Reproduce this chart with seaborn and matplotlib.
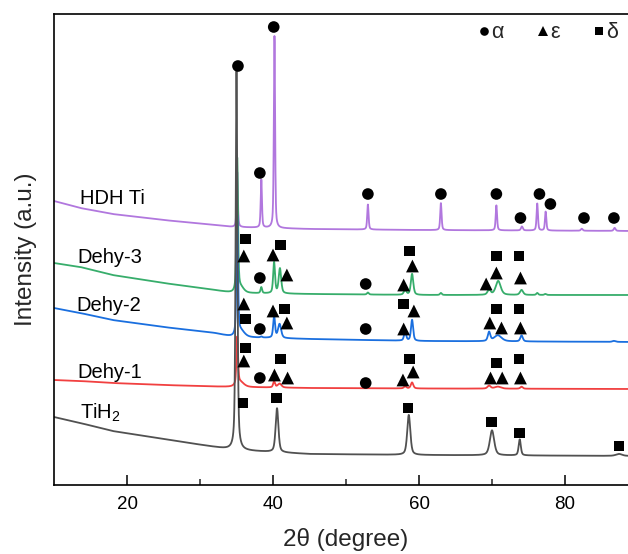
import numpy as np
import pandas as pd
import matplotlib
matplotlib.use("Agg")
import matplotlib.pyplot as plt
from matplotlib.lines import Line2D
import seaborn as sns

# ---------------- data ----------------
samples = ["HDH Ti", "Dehy-3", "Dehy-2", "Dehy-1", "TiH$_2$"]
colors = ["#B177DE", "#37AD6B", "#1A6FDF", "#F14040", "#515151"]

# background level of each stacked pattern at these 2θ positions
bg_tth = [10, 13.6, 18, 25, 32, 34.5, 45, 60, 90]
bg_hdh = [284, 277, 271, 265, 260, 258, 256, 255, 254]
bg_d3 = [222, 218, 210, 202, 195, 192, 191, 190, 190]
bg_d2 = [177, 172, 165, 158, 152, 148, 146, 144, 143]
bg_d1 = [105, 104, 102, 100, 98.5, 98, 97, 96.5, 96]
bg_tih2 = [68, 62, 54, 46, 38, 35, 31, 30, 29]

# diffraction peaks: position (2θ), height above background, FWHM
pk_hdh_pos = [35.1, 38.4, 40.2, 53.0, 63.0, 70.6, 74.1, 76.2, 77.35, 82.3, 86.8]
pk_hdh_h = [55, 48, 192, 25, 27, 25, 4, 27, 19, 2, 3]
pk_hdh_w = [0.2, 0.2, 0.2, 0.22, 0.22, 0.22, 0.3, 0.22, 0.22, 0.3, 0.3]

pk_d3_pos = [35.1, 35.6, 38.4, 40.15, 40.95, 53.0, 58.1, 59.05, 63.0, 69.6, 70.85, 74.05, 76.2, 77.3]
pk_d3_h = [133, 5, 6, 31, 25, 2, 5, 21, 2, 5, 14, 5, 2, 1]
pk_d3_w = [0.25, 1.0, 0.25, 0.3, 0.4, 0.3, 0.4, 0.4, 0.3, 0.5, 0.8, 0.5, 0.3, 0.3]

pk_d2_pos = [35.1, 35.6, 38.4, 40.15, 40.9, 58.1, 59.05, 69.6, 70.8, 74.05, 86.7]
pk_d2_h = [118, 6, 1, 22, 14, 9, 21, 9, 6, 6, 1]
pk_d2_w = [0.25, 1.2, 0.3, 0.3, 0.5, 0.35, 0.35, 0.4, 1.2, 0.4, 0.5]

pk_d1_pos = [35.1, 35.5, 40.15, 40.9, 58.1, 59.05, 69.6, 70.8, 74.05]
pk_d1_h = [47, 5, 6, 4, 2, 6, 3, 2, 2]
pk_d1_w = [0.25, 1.2, 0.3, 0.6, 0.4, 0.4, 0.5, 1.0, 0.4]

pk_tih2_pos = [35.0, 40.55, 58.6, 70.0, 73.8, 87.4]
pk_tih2_h = [379, 44, 40, 25, 16, 2]
pk_tih2_w = [0.28, 0.45, 0.5, 0.7, 0.35, 1.0]

# phase markers: 2θ and height
alpha_tth = [35.2, 40.1, 38.2, 53.0, 63.0, 70.6, 73.9, 76.5, 78.0, 82.6, 86.7,
             38.2, 52.7, 38.2, 52.7, 38.2, 52.7]
alpha_int = [419, 458, 312, 291, 291, 291, 267, 291, 281, 267, 267,
             207, 201, 156, 156, 107, 102]

eps_tth = [36.0, 40.0, 41.9, 59.1, 57.9, 69.2, 70.6, 73.9,
           36.0, 40.0, 41.9, 59.3, 57.9, 69.7, 71.3, 73.9,
           36.0, 40.2, 42.0, 59.2, 57.8, 69.8, 71.4, 73.9]
eps_int = [229, 230, 210, 219, 200, 201, 212, 207,
           181, 174, 162, 174, 156, 162, 157, 157,
           124, 110, 107, 113, 105, 107, 107, 107]

delta_tth = [36.2, 41.0, 58.7, 70.6, 73.7,
             36.2, 41.6, 57.9, 70.6, 73.7,
             36.2, 41.0, 58.7, 70.6, 73.7,
             35.9, 40.5, 58.5, 69.9, 73.8, 87.4]
delta_int = [246, 240, 234, 229, 229,
             166, 176, 181, 176, 176,
             137, 126, 126, 122, 126,
             82, 87, 77, 63, 52, 39]

# sample labels: 2θ and baseline height
label_tth = [13.5, 13.2, 13.0, 13.2, 13.5]
label_int = [281, 222, 174, 107, 66]

# ---------------- build pattern table ----------------
tth = np.arange(10.0, 90.01, 0.02)


def pattern(bg, pos, h, w, eta=0.5):
    y = np.interp(tth, bg_tth, bg)
    for p, a, f in zip(pos, h, w):
        d = (tth - p) / f
        lor = 1.0 / (1.0 + 4.0 * d ** 2)
        gau = np.exp(-4.0 * np.log(2.0) * d ** 2)
        y = y + a * (eta * lor + (1 - eta) * gau)
    return y


curves = {
    "HDH Ti": pattern(bg_hdh, pk_hdh_pos, pk_hdh_h, pk_hdh_w),
    "Dehy-3": pattern(bg_d3, pk_d3_pos, pk_d3_h, pk_d3_w),
    "Dehy-2": pattern(bg_d2, pk_d2_pos, pk_d2_h, pk_d2_w),
    "Dehy-1": pattern(bg_d1, pk_d1_pos, pk_d1_h, pk_d1_w),
    "TiH$_2$": pattern(bg_tih2, pk_tih2_pos, pk_tih2_h, pk_tih2_w),
}
df = pd.concat(
    [pd.DataFrame({"two_theta": tth, "intensity": v, "sample": k}) for k, v in curves.items()],
    ignore_index=True,
)

marks = pd.concat([
    pd.DataFrame({"two_theta": alpha_tth, "intensity": alpha_int, "phase": "α"}),
    pd.DataFrame({"two_theta": eps_tth, "intensity": eps_int, "phase": "ε"}),
    pd.DataFrame({"two_theta": delta_tth, "intensity": delta_int, "phase": "δ"}),
], ignore_index=True)

# ---------------- plot ----------------
sns.set_theme(style="ticks")
plt.rcParams["font.family"] = ["Liberation Sans", "DejaVu Sans"]
plt.rcParams["mathtext.fontset"] = "custom"
plt.rcParams["mathtext.rm"] = "Liberation Sans"
plt.rcParams["mathtext.it"] = "Liberation Sans"

fig = plt.figure(figsize=(6.28, 5.54), dpi=100)
ax = fig.add_axes([54 / 628, 69 / 554, 584 / 628, 471 / 554])

palette = dict(zip(samples, colors))
sns.lineplot(data=df, x="two_theta", y="intensity", hue="sample", hue_order=samples,
             palette=palette, estimator=None, sort=False, legend=False,
             linewidth=1.3, ax=ax)

marker_map = {"α": "o", "ε": "^", "δ": "s"}
size_map = {"α": 70, "ε": 85, "δ": 60}
sns.scatterplot(data=marks, x="two_theta", y="intensity", style="phase",
                markers=marker_map, size="phase", sizes=size_map,
                color="black", linewidth=0, legend=False, ax=ax, zorder=5)

for name, x0, y0 in zip(samples, label_tth, label_int):
    ax.text(x0, y0, name, fontsize=14.5, color="black", ha="left", va="baseline")

handles = [Line2D([], [], marker=marker_map[p], ls="", color="black",
                  markeredgewidth=0,
                  markersize={"α": 6.2, "ε": 7.0, "δ": 5.6}[p]) for p in marker_map]
ax.legend(handles, list(marker_map), loc="center right",
          bbox_to_anchor=(618 / 628, 1 - 33 / 554), bbox_transform=fig.transFigure,
          ncol=3, frameon=False, fontsize=15.5, handlelength=0.4, handletextpad=0.15,
          columnspacing=1.6, borderpad=0, borderaxespad=0)

ax.set_xlim(10, 90)
ax.set_ylim(0, 471)
ax.set_xticks([20, 40, 60, 80])
ax.set_xticks([30, 50, 70], minor=True)
ax.set_yticks([])
ax.tick_params(axis="x", which="major", direction="in", length=7, width=1.1,
               labelsize=13.5, pad=8, colors="black")
ax.tick_params(axis="x", which="minor", direction="in", length=4, width=1.1)
ax.set_xlabel("2θ (degree)", fontsize=17.5, labelpad=11)
ax.set_ylabel("Intensity (a.u.)", fontsize=17.5, labelpad=12)
for side in ["top", "bottom", "left", "right"]:
    ax.spines[side].set_linewidth(1.2)
    ax.spines[side].set_color("black")

fig.savefig("out.png", dpi=100)
